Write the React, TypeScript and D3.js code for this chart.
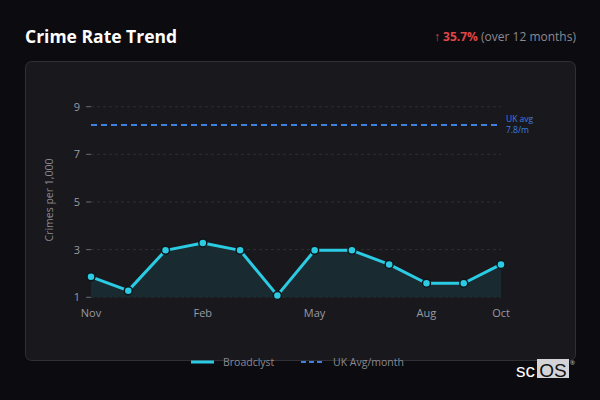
import { useEffect, useRef } from "react";
import * as d3 from "d3";

const months = ["Nov", "Dec", "Jan", "Feb", "Mar", "Apr", "May", "Jun", "Jul", "Aug", "Sep", "Oct"];
const rates = [1.86, 1.28, 2.97, 3.28, 2.97, 1.08, 2.97, 2.97, 2.38, 1.59, 1.59, 2.38];
const tickMonths = ["Nov", "Feb", "May", "Aug", "Oct"];
const yTicks = [1, 3, 5, 7, 9];
const ukAvgLevel = 8.23;

const W = 600;
const H = 400;
const FONT = "'Open Sans', 'Noto Sans', sans-serif";

export default function App(): JSX.Element {
  const ref = useRef<SVGSVGElement | null>(null);

  useEffect(() => {
    if (!ref.current) return;
    const svg = d3.select(ref.current);
    svg.selectAll("*").remove();

    svg.append("rect").attr("width", W).attr("height", H).attr("fill", "#0c0b10");

    // title + change summary
    svg.append("text").attr("x", 25).attr("y", 43).attr("fill", "#ffffff")
      .attr("font-size", 17.5).attr("font-weight", 700).attr("font-family", FONT)
      .text("Crime Rate Trend");
    const sum = svg.append("text").attr("x", 576).attr("y", 41).attr("text-anchor", "end")
      .attr("font-size", 12).attr("font-family", FONT);
    sum.append("tspan").attr("fill", "#e04646").text("↑ ");
    sum.append("tspan").attr("fill", "#e04646").attr("font-weight", 700).text("35.7%");
    sum.append("tspan").attr("fill", "#8a8a92").text(" (over 12 months)");

    // card
    svg.append("rect").attr("x", 25.5).attr("y", 61.5).attr("width", 550).attr("height", 299)
      .attr("rx", 6).attr("fill", "#18181d").attr("stroke", "#303036");

    const x = d3.scalePoint<string>().domain(months).range([91, 501]);
    const y = d3.scaleLinear().domain([1, 9]).range([297.3, 106.7]);

    const g = svg.append("g");

    // grid
    g.selectAll(".grid").data(yTicks).join("line")
      .attr("x1", 91).attr("x2", 501)
      .attr("y1", (d) => y(d)).attr("y2", (d) => y(d))
      .attr("stroke", "#2e2e34").attr("stroke-dasharray", "3,3");

    // y axis ticks
    g.selectAll(".ytick").data(yTicks).join("line")
      .attr("x1", 86).attr("x2", 91)
      .attr("y1", (d) => y(d)).attr("y2", (d) => y(d))
      .attr("stroke", "#6a6a72");
    g.selectAll(".ylab").data(yTicks).join("text")
      .attr("x", 80).attr("y", (d) => y(d) + 4).attr("text-anchor", "end")
      .attr("fill", "#9a9aa2").attr("font-size", 11).attr("font-family", FONT)
      .text((d) => String(d));

    svg.append("text").attr("transform", "translate(53,200) rotate(-90)")
      .attr("text-anchor", "middle").attr("fill", "#8a8a92").attr("font-size", 10.5)
      .attr("font-family", FONT).text("Crimes per 1,000");

    // x labels
    g.selectAll(".xlab").data(tickMonths).join("text")
      .attr("x", (d) => x(d) ?? 0).attr("y", 317).attr("text-anchor", "middle")
      .attr("fill", "#9a9aa2").attr("font-size", 11).attr("font-family", FONT)
      .text((d) => d);

    const pts = months.map((m, i) => ({ m, v: rates[i] }));

    // area
    const area = d3.area<{ m: string; v: number }>()
      .x((d) => x(d.m) ?? 0).y0(y(1)).y1((d) => y(d.v));
    g.append("path").datum(pts).attr("d", area).attr("fill", "#1a2d34").attr("opacity", 0.9);

    // UK avg
    g.append("line").attr("x1", 91).attr("x2", 501)
      .attr("y1", y(ukAvgLevel)).attr("y2", y(ukAvgLevel))
      .attr("stroke", "#3f7fe0").attr("stroke-width", 2).attr("stroke-dasharray", "6,4");
    g.append("text").attr("x", 506).attr("y", y(ukAvgLevel) - 3)
      .attr("fill", "#3f7fe0").attr("font-size", 8.5).attr("font-family", FONT).text("UK avg");
    g.append("text").attr("x", 506).attr("y", y(ukAvgLevel) + 8)
      .attr("fill", "#3f7fe0").attr("font-size", 8.5).attr("font-family", FONT).text("7.8/m");

    // line
    const line = d3.line<{ m: string; v: number }>()
      .x((d) => x(d.m) ?? 0).y((d) => y(d.v));
    g.append("path").datum(pts).attr("d", line).attr("fill", "none")
      .attr("stroke", "#2ccbe4").attr("stroke-width", 3).attr("stroke-linejoin", "round");
    g.selectAll(".pt").data(pts).join("circle")
      .attr("cx", (d) => x(d.m) ?? 0).attr("cy", (d) => y(d.v)).attr("r", 4)
      .attr("fill", "#2ccbe4").attr("stroke", "#0e1418").attr("stroke-width", 1.5);

    // legend
    svg.append("line").attr("x1", 191).attr("x2", 214).attr("y1", 362).attr("y2", 362)
      .attr("stroke", "#2ccbe4").attr("stroke-width", 3);
    svg.append("text").attr("x", 223).attr("y", 366).attr("fill", "#8a8a92")
      .attr("font-size", 10.5).attr("font-family", FONT).text("Broadclyst");
    svg.append("line").attr("x1", 301).attr("x2", 325).attr("y1", 362).attr("y2", 362)
      .attr("stroke", "#3f7fe0").attr("stroke-width", 2).attr("stroke-dasharray", "5,3");
    svg.append("text").attr("x", 333).attr("y", 366).attr("fill", "#8a8a92")
      .attr("font-size", 10.5).attr("font-family", FONT).text("UK Avg/month");

    // logo
    svg.append("text").attr("x", 516).attr("y", 377).attr("fill", "#ffffff")
      .attr("font-size", 19).attr("font-family", "'Liberation Sans', Arial, sans-serif")
      .text("sc");
    svg.append("rect").attr("x", 537).attr("y", 359).attr("width", 32).attr("height", 19)
      .attr("fill", "#d4d4d8");
    svg.append("text").attr("x", 553).attr("y", 376.5).attr("text-anchor", "middle").attr("fill", "#111")
      .attr("font-size", 19).attr("font-family", "'Liberation Sans', Arial, sans-serif")
      .text("OS");
    svg.append("text").attr("x", 570).attr("y", 365).attr("fill", "#ccc")
      .attr("font-size", 6).attr("font-family", FONT).text("®");
  }, []);

  return (
    <svg ref={ref} width={W} height={H}
      style={{ position: "absolute", left: 0, top: 0, display: "block" }} />
  );
}
